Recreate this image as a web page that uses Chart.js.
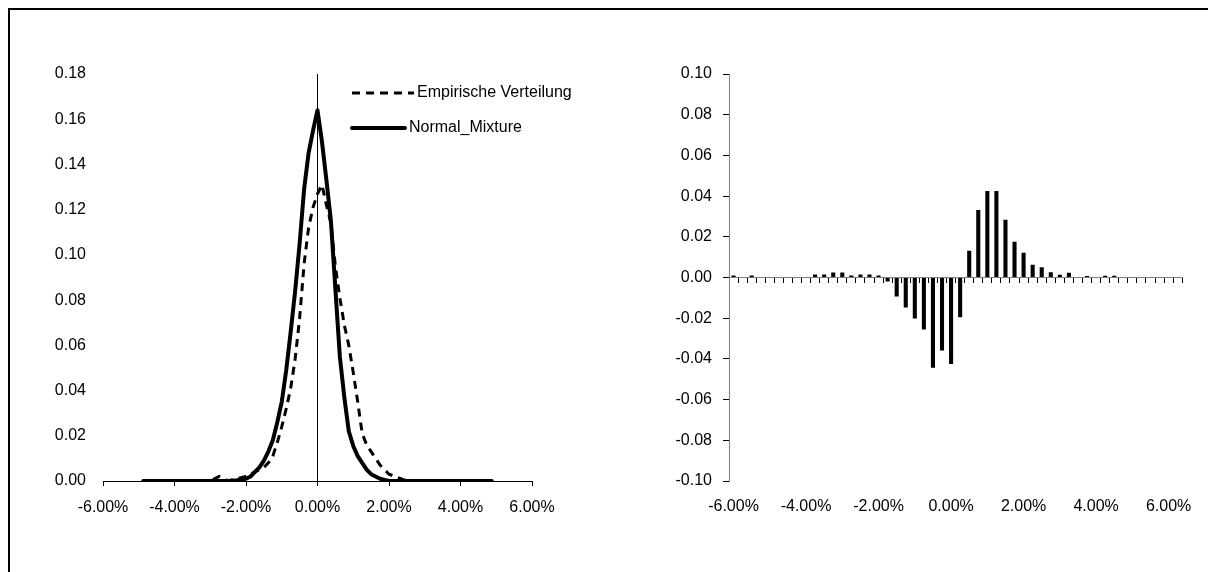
<!DOCTYPE html>
<html>
<head>
<meta charset="utf-8">
<title>Verteilung</title>
<script src="https://cdn.jsdelivr.net/npm/chart.js@4.4.1/dist/chart.umd.min.js"></script>
<style>
  html, body { margin: 0; padding: 0; background: #fff; }
  body { width: 1208px; height: 572px; position: relative; overflow: hidden; }
  .frame { position: absolute; left: 8px; top: 8px; width: 1300px; height: 700px;
           border-top: 2px solid #000; border-left: 2px solid #000; }
  canvas { position: absolute; top: 0; }
  #densityChart { left: 0; }
  #diffChart { left: 604px; }
</style>
</head>
<body>
<div class="frame"></div>
<canvas id="densityChart" width="604" height="572"></canvas>
<canvas id="diffChart" width="604" height="572"></canvas>
<script>
// Returns in percent (x values of the density curves)
const returnsPct = [-4.875, -4.5, -4, -3.5, -3, -2.75, -2.5, -2.25, -2, -1.875, -1.75, -1.625,
  -1.5, -1.375, -1.25, -1.125, -1, -0.875, -0.75, -0.625, -0.5, -0.375, -0.25, -0.125, 0,
  0.125, 0.25, 0.375, 0.5, 0.625, 0.75, 0.875, 1, 1.125, 1.25, 1.375, 1.5, 1.625, 1.75, 1.875,
  2, 2.25, 2.5, 2.75, 3, 3.5, 4, 4.5, 4.875];

const empirical = [0, 0, 0, 0, 0, 0.002, 0, 0.001, 0.002, 0.003, 0.004, 0.005,
  0.006, 0.008, 0.011, 0.017, 0.024, 0.032, 0.041, 0.054, 0.072, 0.096, 0.112, 0.121, 0.127,
  0.131, 0.122, 0.114, 0.095, 0.081, 0.069, 0.060, 0.048, 0.035, 0.021, 0.016, 0.013, 0.010, 0.007, 0.005,
  0.003, 0.0015, 0, 0, 0, 0, 0, 0, 0];

const normalMixture = [0, 0, 0, 0, 0, 0, 0, 0.0003, 0.001, 0.002, 0.004, 0.006,
  0.009, 0.013, 0.018, 0.026, 0.035, 0.049, 0.066, 0.084, 0.105, 0.129, 0.145, 0.155, 0.164,
  0.150, 0.133, 0.115, 0.085, 0.055, 0.037, 0.022, 0.0155, 0.011, 0.008, 0.005, 0.003, 0.002, 0.001, 0.0005,
  0, 0, 0, 0, 0, 0, 0, 0, 0];

// Bins of the difference chart (centre in percent)
const binCenters = [-6, -5.75, -5.5, -5.25, -5, -4.75, -4.5, -4.25, -4, -3.75, -3.5, -3.25,
  -3, -2.75, -2.5, -2.25, -2, -1.75, -1.5, -1.25, -1, -0.75, -0.5, -0.25, 0, 0.25, 0.5, 0.75,
  1, 1.25, 1.5, 1.75, 2, 2.25, 2.5, 2.75, 3, 3.25, 3.5, 3.75, 4, 4.25, 4.5, 4.75, 5, 5.25,
  5.5, 5.75, 6, 6.25];

const differences = [0.001, 0, 0.001, 0, 0, 0, 0, 0, 0, 0.0015, 0.0015, 0.0025,
  0.0025, 0.001, 0.0015, 0.0015, 0.001, -0.002, -0.0093, -0.0148, -0.0202, -0.0256, -0.0443, -0.0359, -0.0425, -0.0195, 0.0132, 0.0332,
  0.0425, 0.0425, 0.0284, 0.0176, 0.0122, 0.0063, 0.005, 0.0026, 0.0013, 0.0023, 0, 0.0007, 0, 0.0008, 0.0008, 0, 0, 0,
  0, 0, 0, 0];

const xTickLabels = [-6, -4, -2, 0, 2, 4, 6];

Chart.defaults.font.family = '"Liberation Sans", Arial, sans-serif';
Chart.defaults.font.size = 16;
Chart.defaults.color = '#000';

const pct = v => Number(v).toFixed(2) + '%';
const dec = v => Number(v).toFixed(2);

// legend drawn inside the plot, Excel style (sample line + text)
const inlineLegend = {
  id: 'inlineLegend',
  afterDatasetsDraw(chart) {
    const ctx = chart.ctx;
    const area = chart.chartArea;
    const sampleLen = [62, 53];
    const textGap = [3, 4];
    chart.data.datasets.forEach((ds, i) => {
      const x0 = area.left + 249;
      const y = area.top + 19 + i * 35;
      ctx.save();
      ctx.strokeStyle = '#000';
      ctx.lineWidth = ds.borderWidth;
      ctx.setLineDash(ds.borderDash || []);
      ctx.lineCap = ds.borderDash ? 'butt' : 'round';
      ctx.beginPath();
      ctx.moveTo(x0, y);
      ctx.lineTo(x0 + sampleLen[i], y);
      ctx.stroke();
      ctx.fillStyle = '#000';
      ctx.font = '16px "Liberation Sans", Arial, sans-serif';
      ctx.textBaseline = 'middle';
      ctx.fillText(ds.label, x0 + sampleLen[i] + textGap[i], y);
      ctx.restore();
    });
  }
};

new Chart(document.getElementById('densityChart'), {
  type: 'line',
  data: {
    datasets: [
      {
        label: 'Empirische Verteilung',
        data: returnsPct.map((x, i) => ({ x, y: empirical[i] })),
        borderColor: '#000',
        borderWidth: 3,
        borderDash: [8, 6],
        pointRadius: 0,
        tension: 0,
        order: 2,
      },
      {
        label: 'Normal_Mixture',
        data: returnsPct.map((x, i) => ({ x, y: normalMixture[i] })),
        borderColor: '#000',
        borderWidth: 4,
        borderCapStyle: 'round',
        borderJoinStyle: 'round',
        pointRadius: 0,
        tension: 0,
        order: 1,
      },
    ],
  },
  options: {
    responsive: false,
    animation: false,
    layout: { padding: { left: 10, right: 72, top: 74, bottom: 41 } },
    plugins: { legend: { display: false }, tooltip: { enabled: false } },
    scales: {
      x: {
        type: 'linear',
        position: 'bottom',
        min: -6,
        max: 6,
        afterBuildTicks: s => { s.ticks = xTickLabels.map(v => ({ value: v })); },
        afterFit: s => { s.height = 50; },
        ticks: { callback: pct, padding: 12, maxRotation: 0 },
        grid: { drawOnChartArea: false, color: '#000', tickLength: 5 },
        border: { color: '#000', width: 1 },
      },
      y: {
        type: 'linear',
        position: 'left',
        min: 0,
        max: 0.18,
        ticks: { stepSize: 0.02, callback: dec, padding: 17 },
        afterFit: s => { s.width = 93; },
        grid: { display: false, drawTicks: false },
        border: { display: false },
      },
      yZero: {
        type: 'linear',
        axis: 'y',
        position: { x: 0 },
        min: 0,
        max: 0.18,
        ticks: { display: false },
        grid: { display: false, drawTicks: false },
        border: { color: '#000', width: 1 },
      },
    },
  },
  plugins: [inlineLegend],
});

new Chart(document.getElementById('diffChart'), {
  type: 'bar',
  data: {
    labels: binCenters,
    datasets: [
      {
        label: 'Differenz',
        data: differences,
        backgroundColor: '#000',
        borderWidth: 0,
        barPercentage: 0.45,
        categoryPercentage: 1,
        xAxisID: 'x',
        yAxisID: 'y',
      },
    ],
  },
  options: {
    responsive: false,
    animation: false,
    layout: { padding: { left: 10, right: 23, top: 74, bottom: 41 } },
    plugins: { legend: { display: false }, tooltip: { enabled: false } },
    scales: {
      x: {
        type: 'category',
        position: { y: 0 },
        offset: true,
        ticks: { display: false, autoSkip: false },
        grid: { offset: true, drawOnChartArea: false, color: '#000', tickLength: 5 },
        border: { color: '#808080', width: 1 },
      },
      xPct: {
        type: 'linear',
        axis: 'x',
        position: 'bottom',
        offset: false,
        min: -6.125,
        max: 6.375,
        afterBuildTicks: s => { s.ticks = xTickLabels.map(v => ({ value: v })); },
        afterFit: s => { s.height = 50; },
        ticks: { callback: pct, padding: 16, maxRotation: 0 },
        grid: { display: false, drawTicks: false, offset: false },
        border: { display: false },
      },
      y: {
        type: 'linear',
        position: 'left',
        min: -0.1,
        max: 0.1,
        ticks: { stepSize: 0.02, callback: dec, padding: 11 },
        afterFit: s => { s.width = 115; },
        grid: { drawOnChartArea: false, color: '#000', tickLength: 6 },
        border: { color: '#808080', width: 1 },
      },
    },
  },
});
</script>
</body>
</html>
